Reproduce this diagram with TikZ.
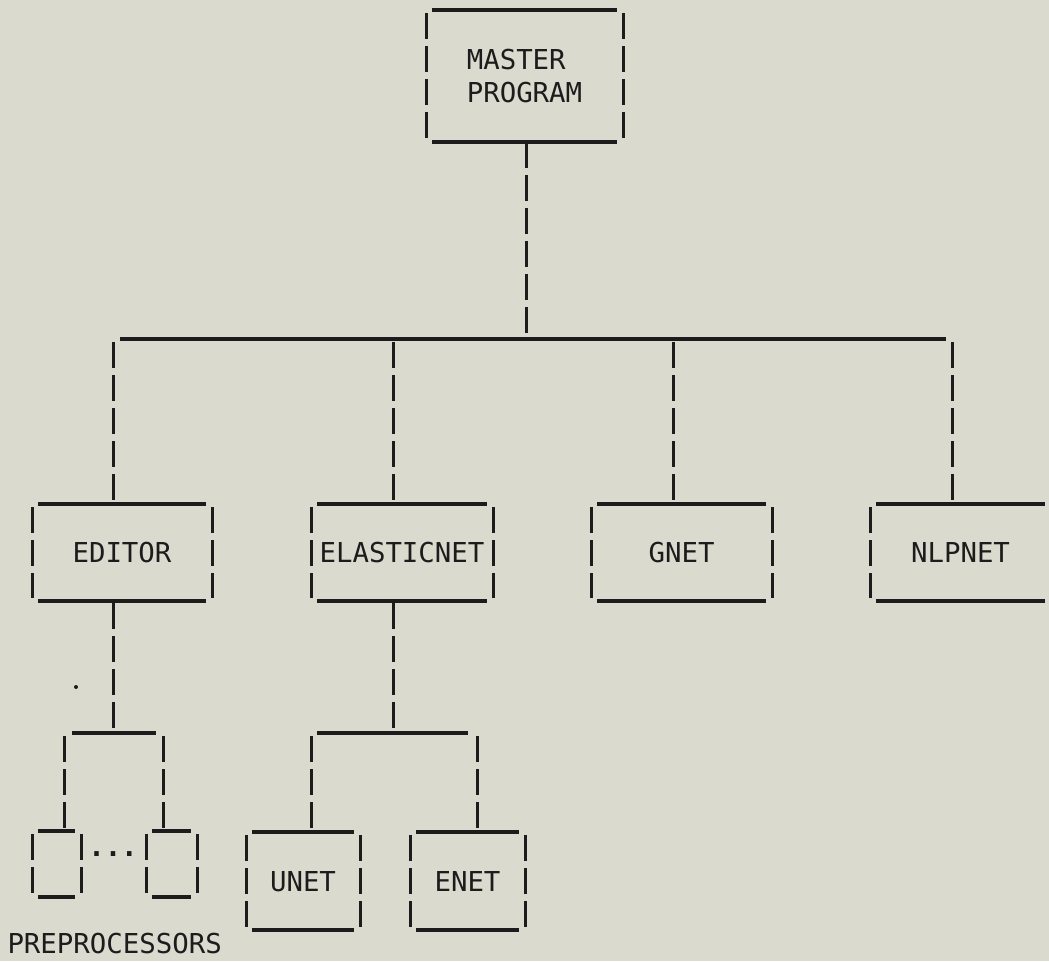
\documentclass[tikz,border=0pt]{standalone}
\usepackage{fontspec}
\newfontfamily\twfont{DejaVu Sans Mono}
\definecolor{paper}{RGB}{218,218,206}
\definecolor{ink}{RGB}{28,28,28}

% typed box: underscore rules top and bottom, broken bars at the sides
\newcommand\tbframe[1]{%
  \draw[hbar] ([xshift=6pt]#1.north west) -- ([xshift=-6pt]#1.north east);
  \draw[hbar] ([xshift=6pt]#1.south west) -- ([xshift=-6pt]#1.south east);
  \draw[vbar] ([yshift=-3pt]#1.north west) -- ([yshift=3pt]#1.south west);
  \draw[vbar] ([yshift=-3pt]#1.north east) -- ([yshift=3pt]#1.south east);
}

\begin{document}
\begin{tikzpicture}[x=1pt,y=-1pt,
  tbox/.style={inner sep=0pt, outer sep=0pt, text height=20pt, text depth=0pt,
    font={\twfont\fontsize{27.4}{33}\selectfont}, text=ink},
  hbar/.style={draw=ink, line width=3.6pt},
  vbar/.style={draw=ink, line width=3pt, dash pattern=on 26pt off 7pt},
]
\fill[paper] (0,0) rectangle (1049,961);
\useasboundingbox (0,0) rectangle (1049,961);

% program boxes
\node[tbox, minimum width=197pt, minimum height=132pt, align=left, text height=53pt]
  (master) at (524.5,76) {MASTER\\PROGRAM};
\node[tbox, minimum width=180pt, minimum height=97pt] (editor)  at (122,552.5)   {EDITOR};
\node[tbox, minimum width=182pt, minimum height=97pt] (elastic) at (402,552.5)   {ELASTICNET};
\node[tbox, minimum width=181pt, minimum height=97pt] (gnet)    at (681.5,552.5) {GNET};
\node[tbox, minimum width=181pt, minimum height=97pt] (nlpnet)  at (960.5,552.5) {NLPNET};
\node[tbox, minimum width=49pt, minimum height=66pt]  (pre1)    at (56.5,864)    {};
\node[tbox, minimum width=51pt, minimum height=66pt]  (pre2)    at (171.5,864)   {};
\node[tbox, minimum width=114pt, minimum height=98pt] (unet)    at (303,881)     {UNET};
\node[tbox, minimum width=115pt, minimum height=98pt] (enet)    at (467.5,881)   {ENET};
\node[tbox, anchor=base, font={\twfont\bfseries\fontsize{27.4}{33}\selectfont}]
  (dots) at (113,856) {...};
\node[tbox, anchor=west] (prelabel) at (7.5,943) {PREPROCESSORS};

\foreach \b in {master,editor,elastic,gnet,nlpnet,pre1,pre2,unet,enet}{\tbframe{\b}}

% main bus
\coordinate (jm) at (526,339);
\coordinate (busL) at (120,339);
\coordinate (busR) at (946,339);
\coordinate (j1) at (113,339);
\coordinate (j2) at (393,339);
\coordinate (j3) at (673,339);
\coordinate (j4) at (952,339);
\draw[vbar] (master.south -| jm) -- (jm);
\draw[hbar] (busL) -- (busR);
\draw[vbar] ([yshift=-3pt]j1) -- (j1 |- editor.north);
\draw[vbar] ([yshift=-3pt]j2) -- (j2 |- elastic.north);
\draw[vbar] ([yshift=-3pt]j3) -- (j3 |- gnet.north);
\draw[vbar] ([yshift=-3pt]j4) -- (j4 |- nlpnet.north);

% editor branch
\coordinate (ja)  at (113,733);
\coordinate (saL) at (72,733);
\coordinate (saR) at (156,733);
\coordinate (sa1) at (64,733);
\coordinate (sa2) at (163,733);
\draw[vbar] ([yshift=-2pt]editor.south -| ja) -- (ja);
\draw[hbar] (saL) -- (saR);
\draw[vbar] ([yshift=-3pt]sa1) -- (sa1 |- pre1.north);
\draw[vbar] ([yshift=-3pt]sa2) -- (sa2 |- pre2.north);

% elasticnet branch
\coordinate (jb)  at (393,733);
\coordinate (sbL) at (317,733);
\coordinate (sbR) at (468,733);
\coordinate (sb1) at (311,733);
\coordinate (sb2) at (477,733);
\draw[vbar] ([yshift=-2pt]elastic.south -| jb) -- (jb);
\draw[hbar] (sbL) -- (sbR);
\draw[vbar] ([yshift=-3pt]sb1) -- (sb1 |- unet.north);
\draw[vbar] ([yshift=-3pt]sb2) -- (sb2 |- enet.north);

% stray typed point
\fill[ink] (76,687) circle (2pt);
\end{tikzpicture}
\end{document}
